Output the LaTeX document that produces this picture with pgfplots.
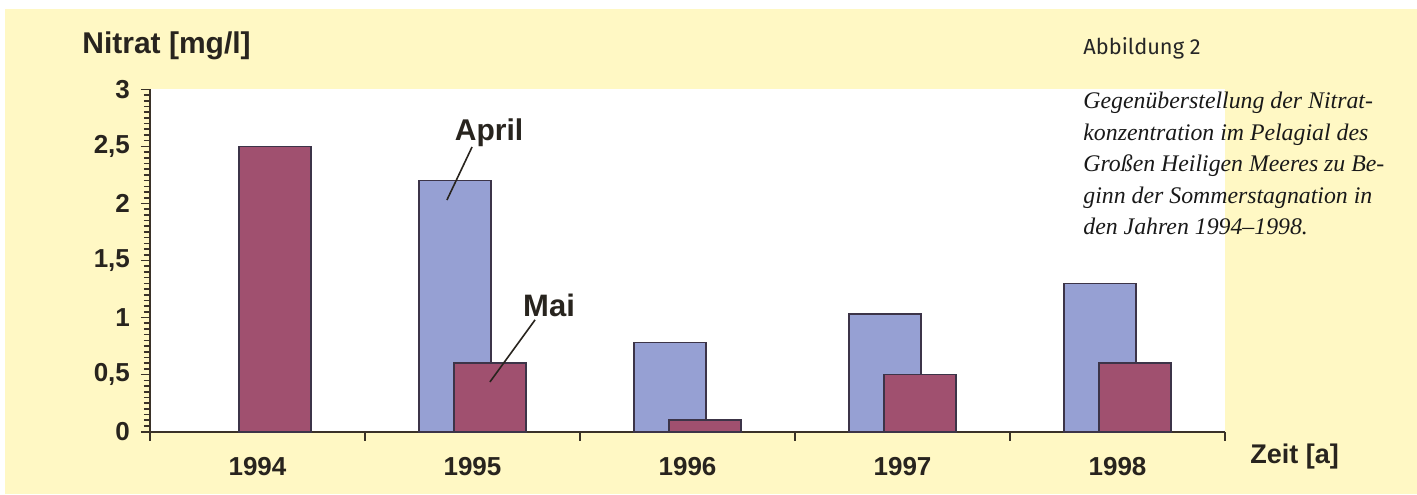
\documentclass[border=0pt]{standalone}
\usepackage{pgfplots}
\pgfplotsset{compat=1.18}
\usepackage{fontspec}
\newfontfamily\lab{Liberation Sans}
\newfontfamily\capsans{Fira Sans}
\newfontfamily\capserif{Liberation Serif}

\definecolor{bgyellow}{RGB}{255,248,196}
\definecolor{aprilblue}{RGB}{150,160,211}
\definecolor{maired}{RGB}{160,80,111}
\definecolor{barline}{RGB}{60,52,72}
\definecolor{axiscol}{RGB}{58,50,40}
\definecolor{txt}{RGB}{40,36,30}

\begin{document}
\begin{tikzpicture}
% page and panel background
\fill[white] (0,0) rectangle (708.5pt,247pt);
\fill[bgyellow] (2.5pt,0) rectangle (708.5pt,242.5pt);

\begin{axis}[
  at={(75pt,31.15pt)}, anchor=south west,
  scale only axis, width=537.5pt, height=171.2pt,
  xmin=-0.5, xmax=4.5, ymin=0, ymax=3,
  axis x line*=bottom, axis y line*=left,
  axis line style={axiscol, line width=1pt, -},
  axis background/.style={fill=white},
  tick align=outside,
  major tick length=4.5pt, minor tick length=3pt,
  tick style={axiscol, line width=0.8pt},
  xtick={-0.5,0.5,1.5,2.5,3.5,4.5},
  xticklabels={},
  extra x ticks={0,1,2,3,4},
  extra x tick labels={1994,1995,1996,1997,1998},
  extra x tick style={major tick length=0pt,
    xticklabel style={anchor=base, yshift=-22pt}},
  ytick={0,0.5,1,1.5,2,2.5,3},
  yticklabels={0,{0,5},1,{1,5},2,{2,5},3},
  minor y tick num=9,
  ticklabel style={font=\lab\bfseries\fontsize{13}{15}\selectfont, text=txt},
  yticklabel style={xshift=-2pt},
  ybar, bar width=0.335,
  clip=false,
]
% April
\addplot[ybar, bar shift=-0.082, fill=aprilblue, draw=barline, line width=0.8pt]
  coordinates {(1,2.2) (2,0.78) (3,1.03) (4,1.3)};
% Mai
\addplot[ybar, bar shift=0.082, fill=maired, draw=barline, line width=0.8pt]
  coordinates {(0,2.5) (1,0.6) (2,0.1) (3,0.5) (4,0.6)};

% series labels with leader lines
\draw[txt, line width=0.8pt] (axis cs:0.998,2.495) -- (axis cs:0.881,2.03);
\node[font=\lab\bfseries\fontsize{15}{17}\selectfont, text=txt, inner sep=0pt]
  at (axis cs:1.077,2.62) {April};
\draw[txt, line width=0.8pt] (axis cs:1.291,0.98) -- (axis cs:1.081,0.436);
\node[font=\lab\bfseries\fontsize{15.5}{17}\selectfont, text=txt, inner sep=0pt]
  at (axis cs:1.356,1.11) {Mai};
\end{axis}

% axis titles
\node[anchor=base west, inner sep=0pt, text=txt, font=\lab\bfseries\fontsize{15}{17}\selectfont]
  at (41pt,220.5pt) {Nitrat [mg/l]};
\node[anchor=base west, inner sep=0pt, text=txt, font=\lab\bfseries\fontsize{13.5}{15}\selectfont]
  at (625pt,15.35pt) {Zeit [a]};

% figure caption
\node[anchor=base west, inner sep=0pt, text=black!85, font=\capsans\fontsize{10.9}{12}\selectfont]
  at (541.5pt,219.5pt) {Abbildung 2};
\node[anchor=north west, inner sep=0pt, align=left, text=black!90,
      font=\capserif\itshape\fontsize{11.9}{15.7}\selectfont]
  at (541.5pt,201pt) {Gegenüberstellung der Nitrat-\\
konzentration im Pelagial des\\
Großen Heiligen Meeres zu Be-\\
ginn der Sommerstagnation in\\
den Jahren 1994–1998.};
\end{tikzpicture}
\end{document}
